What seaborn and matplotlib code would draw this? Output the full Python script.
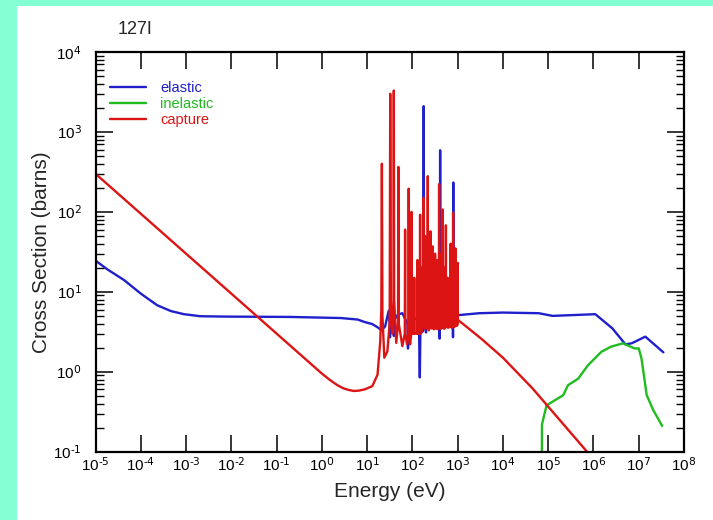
import matplotlib
matplotlib.use("Agg")
import matplotlib.pyplot as plt
from matplotlib.patches import Rectangle
from matplotlib.ticker import LogLocator, NullLocator, NullFormatter
import seaborn as sns
import pandas as pd

# ---------------- data ----------------
elastic_E = [1e-5, 1.8e-5, 4.3e-5, 1e-4, 2.3e-4, 4.6e-4, 9e-4, 2.1e-3, 7e-3, 0.2, 2.6,
             6.2, 8.7, 13, 17, 21, 25, 30,
             31.5, 32, 33, 36, 38, 39, 40, 48, 60, 78, 80, 82, 100, 125, 140, 146,
             150, 170, 176, 178, 180, 196, 200, 205, 300, 390, 400, 405, 410, 415,
             600, 780, 790, 795, 800, 805, 1000, 3000, 1e4, 6.2e4, 1.25e5, 1.1e6,
             2.6e6, 5.1e6, 7e6, 1.4e7, 3.5e7]
elastic_xs = [24.6, 19.2, 14, 9.5, 6.8, 5.75, 5.25, 4.95, 4.9, 4.85, 4.7,
              4.5, 4.2, 3.95, 3.6, 3.3, 3.7, 5.8,
              4.0, 2.7, 4.5, 5.0, 4.5, 2.8, 4.5, 5.2, 5.4, 4.0, 1.95, 4.0, 4.8, 4.5, 3.6, 0.85,
              3.0, 3.2, 3.5, 2100, 4.0, 3.5, 3.1, 4.0, 4.5, 4.0, 2.6, 4.5, 590, 4.5,
              4.5, 4.0, 2.7, 4.5, 233, 4.5, 5.1, 5.4, 5.5, 5.4, 5.0, 5.25,
              3.5, 2.2, 2.27, 2.75, 1.75]

inelastic_E = [7.2e4, 7.3e4, 9.2e4, 2.15e5, 2.75e5, 4.6e5, 7.6e5, 1.5e6, 2.45e6,
               4.5e6, 8.1e6, 1.0e7, 1.15e7, 1.5e7, 2.1e7, 3.3e7]
inelastic_xs = [0.05, 0.22, 0.38, 0.51, 0.68, 0.82, 1.21, 1.78, 2.06,
                2.27, 1.96, 1.96, 1.47, 0.51, 0.33, 0.21]

capture_E = [1e-5, 1.0, 1.5, 2.2, 3.0, 4.0, 5.1, 6.5, 8.7, 13.0, 17.0, 19.5, 20.6, 21.2, 21.8, 24.0,
             28.0, 31.5, 32.4, 33.5, 36.0, 38.3, 38.9, 39.6, 44.0, 48.2, 49.0, 50.0,
             60.0, 68.0, 69.0, 70.0, 76.0, 82.0, 83.0, 84.0, 89.0, 94.5, 95.5, 96.5,
             108.0, 110.0, 112.0, 128.0, 130.0, 132.0, 146.0, 148.0, 150.0,
             158.0, 160.0, 162.0, 176.0, 178.0, 180.0, 188.0, 190.0, 192.0,
             203.0, 205.0, 207.0, 217.0, 219.0, 221.0, 230.0, 238.0, 240.0, 242.0,
             249.0, 251.0, 253.0, 268.0, 270.0, 272.0, 280.0, 282.0, 284.0,
             300.0, 315.0, 317.0, 319.0, 328.0, 330.0, 332.0, 348.0, 350.0, 352.0,
             370.0, 386.0, 389.0, 392.0, 407.0, 410.0, 413.0, 437.0, 440.0, 443.0,
             465.0, 468.0, 471.0, 487.0, 490.0, 493.0, 517.0, 520.0, 523.0,
             547.0, 550.0, 553.0, 596.0, 600.0, 604.0, 636.0, 640.0, 644.0,
             695.0, 700.0, 705.0, 725.0, 730.0, 735.0, 755.0, 760.0, 765.0,
             790.0, 794.0, 798.0, 815.0, 820.0, 825.0, 855.0, 860.0, 865.0,
             887.0, 891.0, 895.0, 915.0, 920.0, 925.0, 965.0, 970.0, 975.0,
             995.0, 1000.0, 1005.0, 1100.0, 3300.0, 1e4, 4.5e4, 1.12e5, 7.2e5, 1.0e6]
capture_xs = [300, 0.95, 0.79, 0.68, 0.62, 0.59, 0.575, 0.58, 0.6, 0.66, 0.92, 2.4, 6.0, 400, 5.0, 1.5,
              1.8, 4.0, 3000, 8.0, 3.0, 6.0, 3300, 8.0, 2.3, 4.0, 365, 4.0,
              2.1, 3.0, 60, 3.0, 2.2, 3.0, 195, 3.0, 2.2, 3.0, 100, 3.0,
              3.0, 15, 3.0, 3.0, 25, 3.0, 3.0, 92, 3.0,
              3.2, 20, 3.2, 5.0, 150, 5.0, 3.5, 50, 3.5,
              3.5, 30, 3.5, 4.0, 280, 4.0, 3.3, 3.5, 25, 3.5,
              4.0, 57, 4.0, 3.5, 20, 3.5, 4.0, 37, 4.0,
              3.4, 4.0, 30, 4.0, 3.5, 18, 3.5, 3.5, 25, 3.5,
              3.4, 4.0, 222, 4.0, 3.5, 20, 3.5, 3.5, 30, 3.5,
              4.0, 107, 4.0, 3.5, 15, 3.5, 3.5, 20, 3.5,
              4.0, 68, 4.0, 3.6, 15, 3.6, 3.6, 12, 3.6,
              4.0, 40, 4.0, 3.6, 18, 3.6, 3.6, 15, 3.6,
              4.0, 98, 4.0, 3.7, 20, 3.7, 3.7, 18, 3.7,
              4.0, 35, 4.0, 3.8, 15, 3.8, 3.8, 20, 3.8,
              4.5, 23, 4.5, 4.3, 2.6, 1.5, 0.62, 0.34, 0.1, 0.081]

series_names = ["elastic", "inelastic", "capture"]
series_colors = ["#1f1fcc", "#1fbb1f", "#dd1414"]
x_decades = list(range(-5, 9))
y_decades = list(range(-1, 5))

# ---------------- figure ----------------
sns.set_style("ticks")
plt.rcParams["font.family"] = ["Liberation Sans", "DejaVu Sans"]
plt.rcParams["axes.unicode_minus"] = False
plt.rcParams["mathtext.default"] = "regular"

fig = plt.figure(figsize=(7.13, 5.2), dpi=100)
fig.patch.set_facecolor("white")
aqua = "#84FFD4"
fig.patches.append(Rectangle((0, 0), 17 / 713, 1, transform=fig.transFigure,
                             facecolor=aqua, edgecolor="none", zorder=0))
fig.patches.append(Rectangle((0, 1 - 6 / 520), 1, 6 / 520, transform=fig.transFigure,
                             facecolor=aqua, edgecolor="none", zorder=0))

ax = fig.add_axes([95.5 / 713, 1 - 451.7 / 520, (684 - 95.5) / 713, (451.7 - 52) / 520])
ax.set_facecolor("white")

data = [(elastic_E, elastic_xs), (inelastic_E, inelastic_xs), (capture_E, capture_xs)]
for (E, xs), name, col in zip(data, series_names, series_colors):
    df = pd.DataFrame({"E": E, "xs": xs})
    sns.lineplot(data=df, x="E", y="xs", ax=ax, color=col, lw=1.7,
                 label=name, estimator=None, sort=False)

ax.set_xscale("log")
ax.set_yscale("log")


def dec_label(k):
    return r"$10^{\text{%d}}$" % k


ax.set_xticks([10.0 ** k for k in x_decades], labels=[dec_label(k) for k in x_decades])
ax.set_yticks([10.0 ** k for k in y_decades], labels=[dec_label(k) for k in y_decades])
ax.xaxis.set_minor_locator(NullLocator())
ax.yaxis.set_minor_locator(LogLocator(base=10, subs=range(2, 10), numticks=20))
ax.yaxis.set_minor_formatter(NullFormatter())
ax.set_xlim(1e-5, 1e8)
ax.set_ylim(0.1, 1e4)

for s in ax.spines.values():
    s.set_linewidth(1.6)
    s.set_color("black")
    s.set_visible(True)

ax.tick_params(axis="both", which="both", direction="in", top=True, right=True,
               colors="black", labelsize=11)
ax.tick_params(axis="x", which="major", length=12, width=1.1, pad=3)
ax.tick_params(axis="y", which="major", length=12, width=1.1, pad=10)
ax.tick_params(axis="y", which="minor", length=6, width=1.0)

ax.set_xlabel("Energy (eV)", fontsize=15)
ax.set_ylabel("Cross Section (barns)", fontsize=15)
ax.xaxis.set_label_coords(0.5, -0.075)
ax.yaxis.set_label_coords(-0.076, 0.5)

leg = ax.legend(loc="upper left", bbox_to_anchor=(0.0246, 0.928), frameon=False,
                fontsize=10.5, handlelength=2.5, handletextpad=0.95,
                labelspacing=0.15, borderpad=0, borderaxespad=0)
for txt, col in zip(leg.get_texts(), series_colors):
    txt.set_color(col)
for ln in leg.get_lines():
    ln.set_linewidth(1.7)

fig.text(118 / 713, 1 - 34 / 520, "127I", fontsize=13, ha="left", va="baseline")

fig.savefig("out.png", dpi=100, facecolor=fig.get_facecolor())
